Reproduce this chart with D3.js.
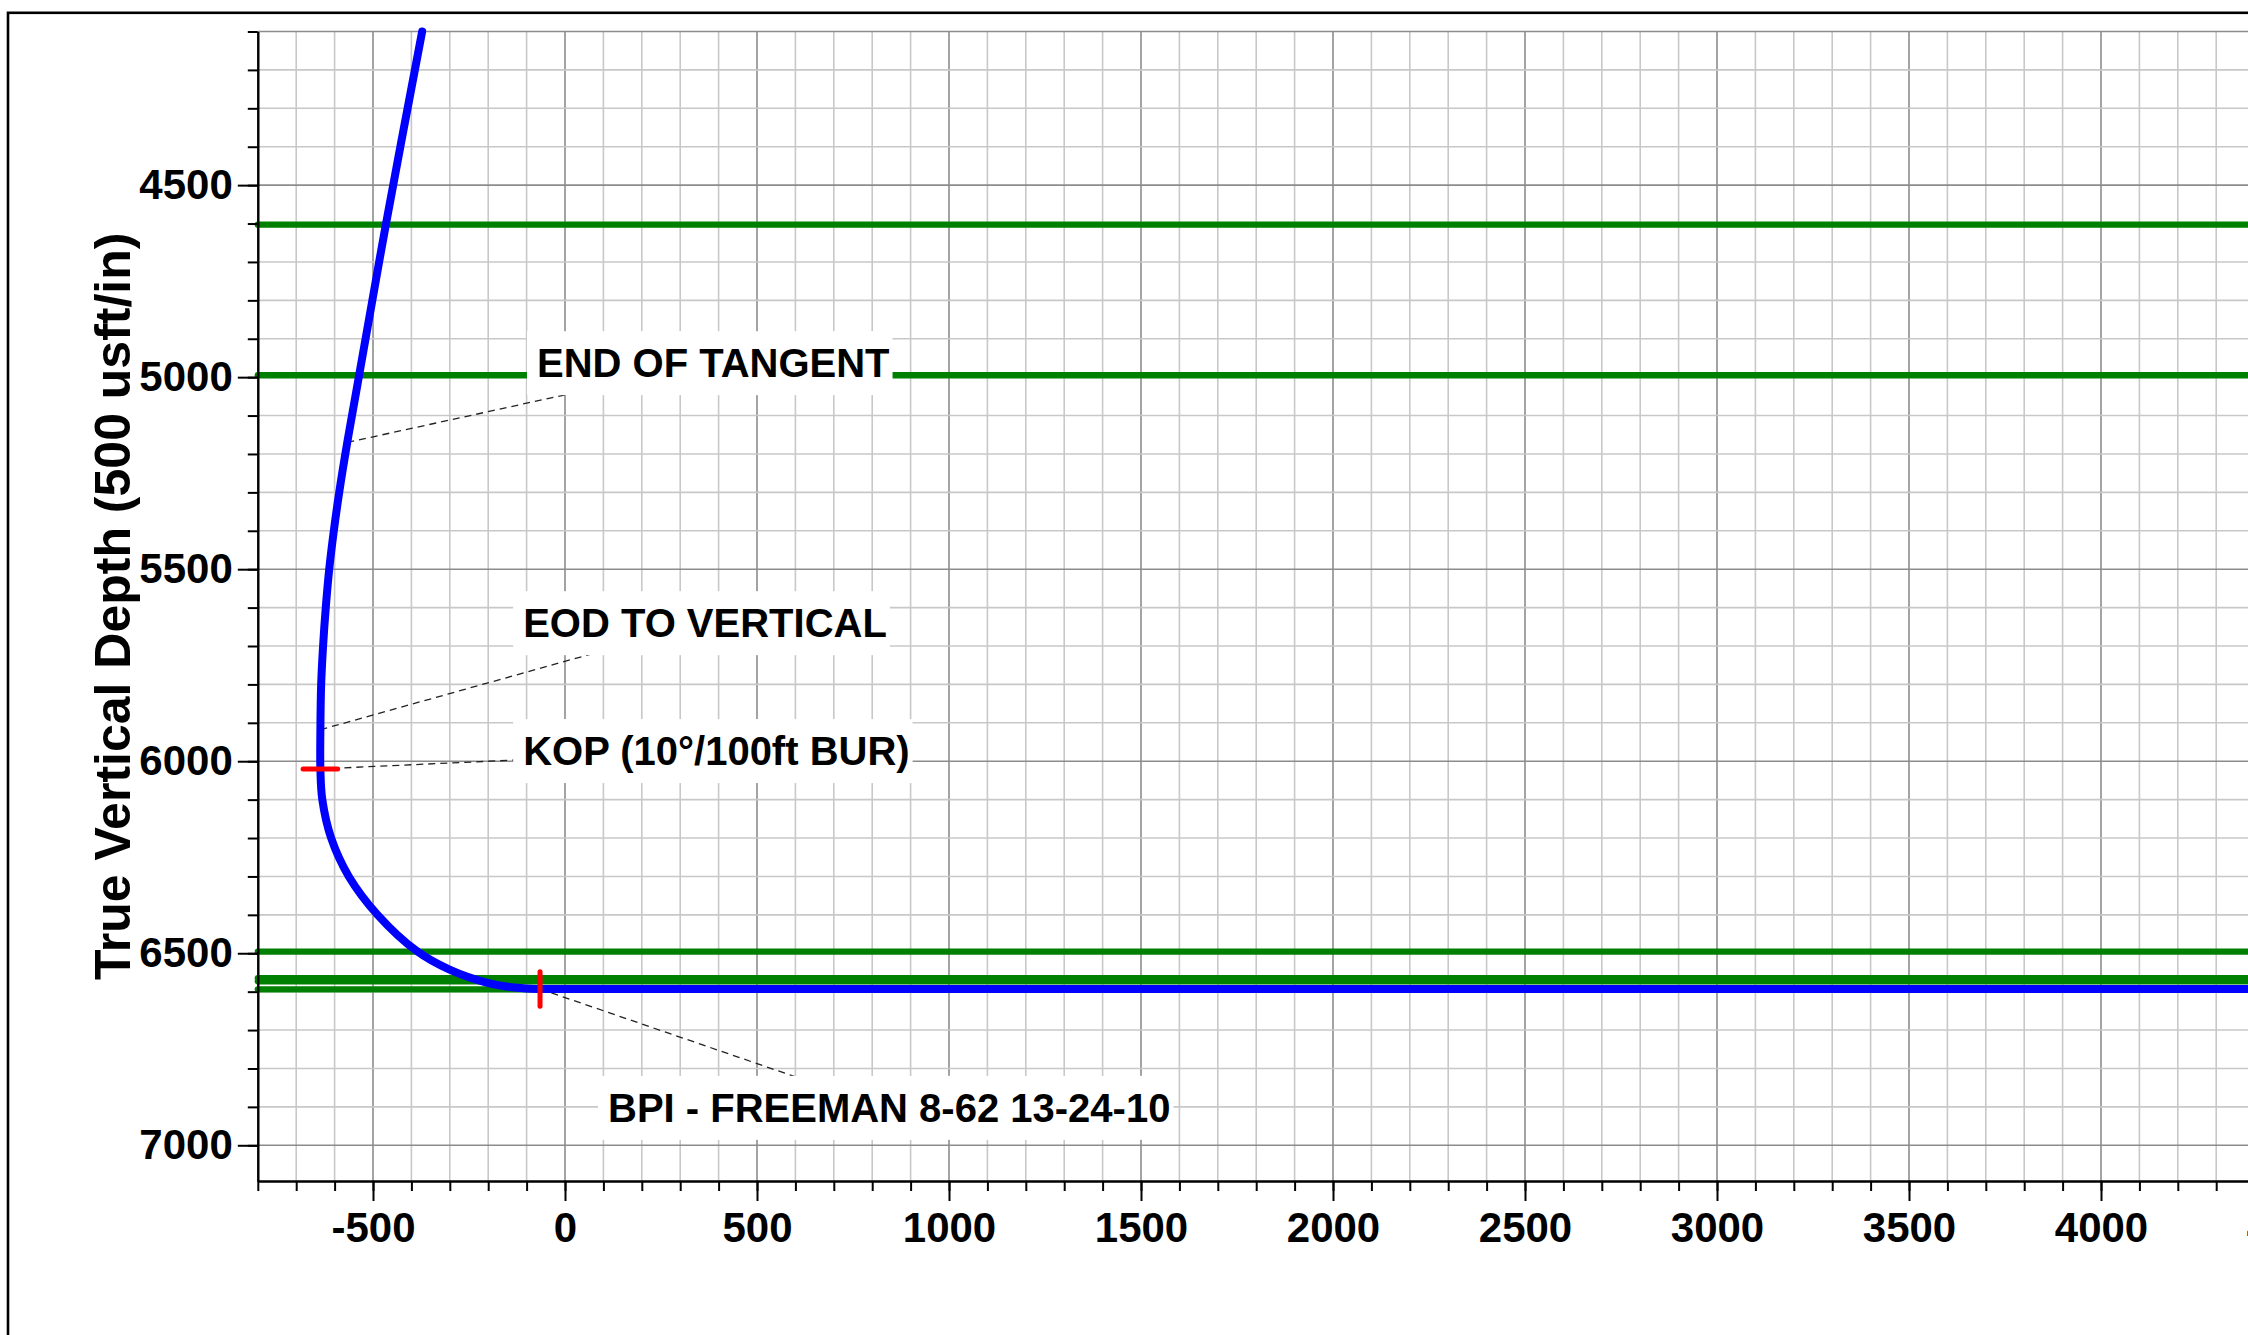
<!DOCTYPE html>
<html>
<head>
<meta charset="utf-8">
<script src="https://cdn.jsdelivr.net/npm/d3@7"></script>
<style>
  body { margin: 0; background: #fff; }
  svg { display: block; font-family: "Liberation Sans", Arial, sans-serif; }
</style>
</head>
<body>
<div id="chart"></div>
<script>
// well path : vertical section (usft) and true vertical depth (usft)
const wellVs  = [-372, -466, -537, -567, -588, -602, -614, -623, -630, -635, -637, -637, -632, -609, -563, -488, -385, -302, -202, -125, -65, 0, 1000, 2500, 4000, 4800];
const wellTvd = [4100, 4600, 5000, 5170, 5300, 5400, 5500, 5600, 5700, 5800, 5918, 6020, 6100, 6200, 6300, 6400, 6495, 6542, 6577, 6590, 6593, 6593, 6593, 6593, 6593, 6593];

// formation tops (green)
const topTvd = [4603, 4995, 6496, 6565, 6573, 6594];

// red markers : KOP (horizontal tick) and landing point (vertical tick)
const kopVs = -637, kopTvd = 6020;
const landVs = -65, landTvd = 6593;

// annotations
const labelText  = ["END OF TANGENT", "EOD TO VERTICAL", "KOP (10°/100ft BUR)", "BPI - FREEMAN 8-62 13-24-10"];
const labelPtVs  = [-567, -637, -637, -65];
const labelPtTvd = [5170, 5918, 6020, 6593];
const labelVs    = [-73, -109, -109, 112];
const labelTvd   = [5000, 5677, 6010, 6939];

// axis ticks
const xTickLabels = [-500, 0, 500, 1000, 1500, 2000, 2500, 3000, 3500, 4000, 4500];
const yTickLabels = [4500, 5000, 5500, 6000, 6500, 7000];
const xMinor = d3.range(-800, 4801, 100);
const yMinor = d3.range(4100, 7001, 100);

const W = 2248, H = 1335;
const svg = d3.select("#chart").append("svg")
    .attr("width", W)
    .attr("height", H);

// same scale on both axes (500 usft/in)
const x = d3.scaleLinear().domain([-800, 4800]).range([257.8, 257.8 + 5600 * 0.384]);
const y = d3.scaleLinear().domain([4100, 7093]).range([31.5, 1181]);
const pLeft = x(-800), pRight = x(4800), pTop = y(4100), pBottom = y(7093);

// outer frame (runs off the page right and bottom)
svg.append("rect")
    .attr("x", 8).attr("y", 12.8)
    .attr("width", W + 100).attr("height", H + 100)
    .attr("fill", "none").attr("stroke", "#000").attr("stroke-width", 2.6);

// grid
const grid = svg.append("g");
grid.selectAll(".gv").data(xMinor).join("line")
    .attr("class", "gv")
    .attr("x1", d => x(d)).attr("x2", d => x(d))
    .attr("y1", pTop).attr("y2", pBottom)
    .attr("stroke", d => d % 500 === 0 ? "#8c8c8c" : "#c8c8c8")
    .attr("stroke-width", 1.6);
grid.selectAll(".gh").data(yMinor).join("line")
    .attr("class", "gh")
    .attr("x1", pLeft).attr("x2", pRight)
    .attr("y1", d => y(d)).attr("y2", d => y(d))
    .attr("stroke", d => (d % 500 === 0 || d === 4100) ? "#8c8c8c" : "#c8c8c8")
    .attr("stroke-width", 1.6);

// formation tops
svg.append("g").selectAll("line").data(topTvd).join("line")
    .attr("x1", pLeft).attr("x2", pRight)
    .attr("y1", d => y(d)).attr("y2", d => y(d))
    .attr("stroke", "#008000")
    .attr("stroke-width", 6.3)
    .attr("stroke-linecap", "round");

const leaders = svg.append("g");

// well path
const wellLine = d3.line()
    .x(d => x(d[0]))
    .y(d => y(d[1]))
    .curve(d3.curveCatmullRom.alpha(0.5));

svg.append("path")
    .datum(d3.zip(wellVs, wellTvd))
    .attr("d", wellLine)
    .attr("fill", "none")
    .attr("stroke", "#0000ff")
    .attr("stroke-width", 8)
    .attr("stroke-linecap", "round")
    .attr("stroke-linejoin", "round");

// markers
const mk = 45;
const marks = svg.append("g")
    .attr("stroke", "#ff0000").attr("stroke-width", 5).attr("stroke-linecap", "round");
marks.append("line")
    .attr("x1", x(kopVs - mk)).attr("x2", x(kopVs + mk))
    .attr("y1", y(kopTvd)).attr("y2", y(kopTvd));
marks.append("line")
    .attr("x1", x(landVs)).attr("x2", x(landVs))
    .attr("y1", y(landTvd - mk)).attr("y2", y(landTvd + mk));

// labels with white boxes, dashed leader to the box centre
const labels = svg.append("g");
labelText.forEach((t, i) => {
  const g = labels.append("g");
  const box = g.append("rect").attr("fill", "#fff");
  const txt = g.append("text")
      .attr("x", x(labelVs[i]))
      .attr("y", y(labelTvd[i]))
      .attr("font-size", 40)
      .attr("font-weight", "bold")
      .attr("fill", "#000")
      .text(t);
  const bb = txt.node().getBBox();
  const by = y(labelTvd[i]);
  box.attr("x", bb.x - 10).attr("y", by - 46)
     .attr("width", bb.width + 13).attr("height", 64);
  leaders.append("line")
      .attr("x1", x(labelPtVs[i])).attr("y1", y(labelPtTvd[i]))
      .attr("x2", bb.x - 10 + (bb.width + 13) / 2).attr("y2", by - 46 + 32)
      .attr("stroke", "#222")
      .attr("stroke-width", 1.3)
      .attr("stroke-dasharray", "7,5");
});

// axes
const styleAxis = g => {
  g.select(".domain").attr("stroke", "#000").attr("stroke-width", 2);
  g.selectAll(".tick line").attr("stroke", "#000").attr("stroke-width", 2);
  g.selectAll(".tick text")
      .attr("font-size", 42)
      .attr("font-weight", "bold")
      .attr("fill", "#000")
      .attr("font-family", "'Liberation Sans', Arial, sans-serif");
};

svg.append("g")
    .attr("transform", `translate(0,${pBottom})`)
    .call(d3.axisBottom(x).tickValues(xMinor).tickSize(10).tickSizeOuter(0).tickFormat(""))
    .call(styleAxis);
svg.append("g")
    .attr("transform", `translate(0,${pBottom})`)
    .call(d3.axisBottom(x).tickValues(xTickLabels).tickSize(20).tickSizeOuter(0).tickPadding(11).tickFormat(d => String(d)))
    .call(styleAxis);

svg.append("g")
    .attr("transform", `translate(${pLeft},0)`)
    .call(d3.axisLeft(y).tickValues(yMinor).tickSize(10).tickSizeOuter(0).tickFormat(""))
    .call(styleAxis);
svg.append("g")
    .attr("transform", `translate(${pLeft},0)`)
    .call(d3.axisLeft(y).tickValues(yTickLabels).tickSize(20).tickSizeOuter(0).tickPadding(5).tickFormat(d => String(d)))
    .call(styleAxis);

// y axis title
svg.append("text")
    .attr("transform", `translate(130,${(pTop + pBottom) / 2}) rotate(-90)`)
    .attr("text-anchor", "middle")
    .attr("font-size", 50)
    .attr("font-weight", "bold")
    .attr("fill", "#000")
    .text("True Vertical Depth (500 usft/in)");
</script>
</body>
</html>
